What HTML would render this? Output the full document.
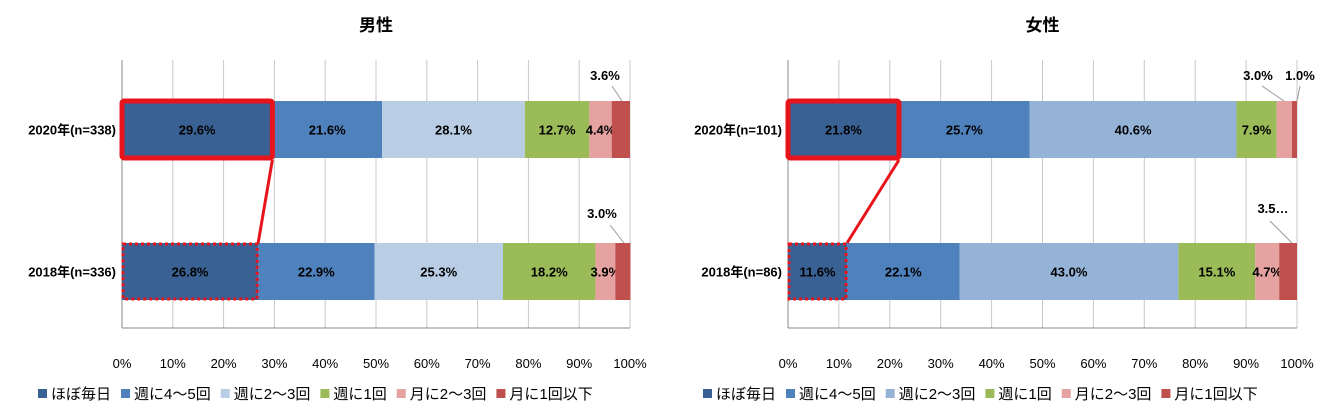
<!DOCTYPE html>
<html><head><meta charset="utf-8"><style>
body{margin:0;background:#fff;}
svg{display:block;font-family:"Liberation Sans","Noto Sans CJK JP",sans-serif;}
</style></head><body>
<svg id="c" width="1326" height="411"></svg>
<script>
const categories=["ほぼ毎日","週に4～5回","週に2～3回","週に1回","月に2～3回","月に1回以下"];
const rows=["2020年(n=338)","2018年(n=336)"];
const rowsF=["2020年(n=101)","2018年(n=86)"];
const male2020=[29.6,21.6,28.1,12.7,4.4,3.6];
const male2018=[26.8,22.9,25.3,18.2,3.9,3.0];
const female2020=[21.8,25.7,40.6,7.9,3.0,1.0];
const female2018=[11.6,22.1,43.0,15.1,4.7,3.5];
const ticks=["0%","10%","20%","30%","40%","50%","60%","70%","80%","90%","100%"];
const NS="http://www.w3.org/2000/svg";
const svg=document.getElementById('c');
function mk(t,a,p){const e=document.createElementNS(NS,t);for(const k in a)e.setAttribute(k,a[k]);(p||svg).appendChild(e);return e;}
function chart(cfg){
  const g=mk('g',{});
  
  
  const x=v=>cfg.x0+(cfg.x1-cfg.x0)*v/100;
  const top=60,bottom=328,rowY=[101,243],bh=57;
  const t=mk('text',{x:(cfg.x0+cfg.x1)/2,y:31,'text-anchor':'middle','font-size':17,'font-weight':'bold'},g);t.textContent=cfg.title;
  
  ticks.forEach((tk,i)=>{const xv=x(i*10);
    const l=mk('line',{x1:xv,x2:xv,y1:top,y2:bottom,stroke:i==0?'#888':'#c8c8c8','stroke-width':1},g);
    
    const tt=mk('text',{x:xv,y:368,'text-anchor':'middle','font-size':13},g);tt.textContent=tk;
    });
  mk('line',{x1:cfg.x0,x2:cfg.x1,y1:bottom,y2:bottom,stroke:'#888'},g);
  [cfg.d2020,cfg.d2018].forEach((d,ri)=>{let acc=0;const y=rowY[ri];
    const rl=mk('text',{x:cfg.x0-6,y:y+bh/2+5,'text-anchor':'end','font-size':13,'font-weight':'bold'},g);rl.textContent=cfg.rows[ri];
    
    d.forEach((v,i)=>{const r=mk('rect',{x:x(acc),y:y,width:x(acc+v)-x(acc),height:bh,fill:cfg.colors[i]},g);
      
      if(v>=3.8){const tx=mk('text',{x:x(acc+v/2),y:y+bh/2+5,'text-anchor':'middle','font-size':13,'font-weight':'bold'},g);tx.textContent=v.toFixed(1)+'%';
        }
      acc+=v;});
  });
  // highlights
  const a=cfg.d2020[0],b=cfg.d2018[0];
  const hs=mk('rect',{x:cfg.x0,y:rowY[0],width:x(a)-cfg.x0,height:bh,fill:'none',stroke:'#e8141c','stroke-width':5,rx:2},g);
  
  const hd=mk('rect',{x:cfg.x0+1,y:rowY[1]+1,width:x(b)-cfg.x0-2,height:bh-2,fill:'none',stroke:'#e8141c','stroke-width':3,'stroke-dasharray':'3,3'},g);
  
  const cl=mk('line',{x1:x(a),y1:rowY[0]+bh+2,x2:x(b),y2:rowY[1],stroke:'#e8141c','stroke-width':3},g);
  
  cfg.callouts.forEach(c=>{mk('line',{x1:c.lx,y1:c.ly,x2:c.px,y2:c.py,stroke:'#999'},g);
    const ct=mk('text',{x:c.tx,y:c.ty,'text-anchor':'middle','font-size':13,'font-weight':'bold'},g);ct.textContent=c.t;
    });
  // legend
  let lx=cfg.legX;
  categories.forEach((c,i)=>{const r=mk('rect',{x:lx,y:389,width:9,height:9,fill:cfg.colors[i]},g);
    
    const tx=mk('text',{x:lx+13,y:399,'font-size':15},g);tx.textContent=c;
    
    lx+=13+tx.getComputedTextLength()+10;});
}
chart({name:'male-chart',title:'男性',x0:122,x1:630,d2020:male2020,d2018:male2018,rows:rows,legX:38,
 colors:['#3a6193','#4f81bd','#b9cde5','#9bbb59','#e6a1a1','#c0504d'],
 callouts:[{t:'3.6%',tx:605,ty:80,lx:612,ly:86,px:622,py:101},{t:'3.0%',tx:602,ty:218,lx:610,ly:225,px:624,py:243}]});
chart({name:'female-chart',title:'女性',x0:788,x1:1297,d2020:female2020,d2018:female2018,rows:rowsF,legX:703,
 colors:['#3a6193','#4f81bd','#95b3d7','#9bbb59','#e6a1a1','#c0504d'],
 callouts:[{t:'3.0%',tx:1258,ty:80,lx:1262,ly:86,px:1284,py:101},{t:'1.0%',tx:1300,ty:80,lx:1300,ly:86,px:1297,py:101},{t:'3.5…',tx:1273,ty:213,lx:1270,ly:221,px:1292,py:243}]});
</script>
</body></html>
